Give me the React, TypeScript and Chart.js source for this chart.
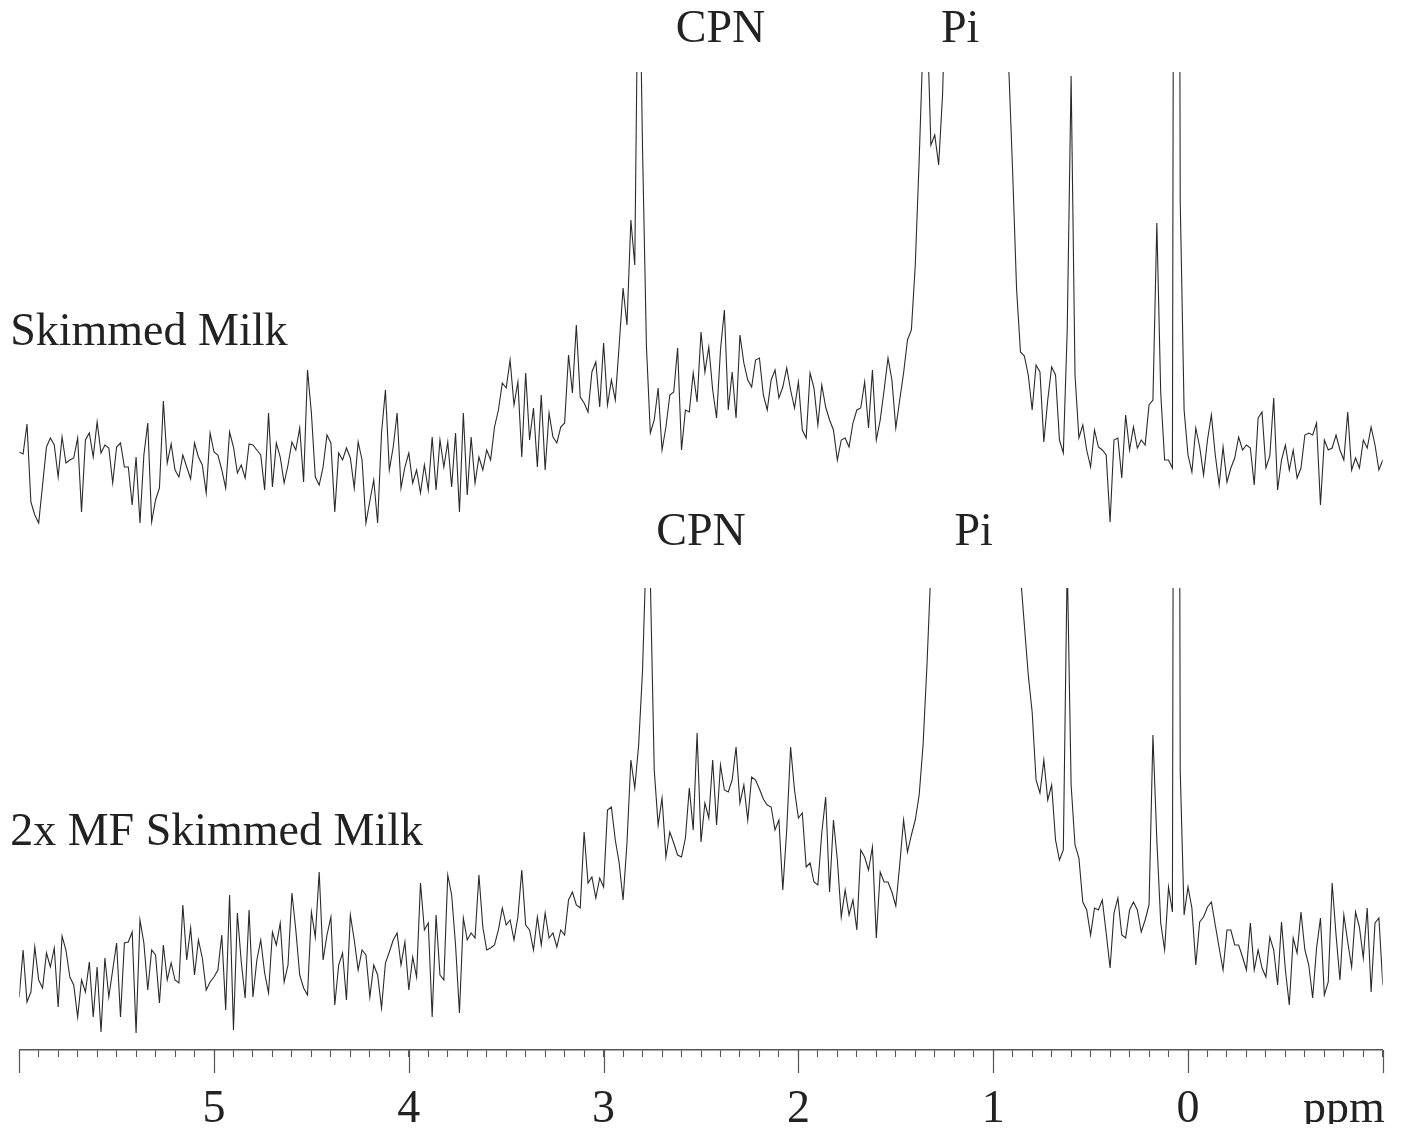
import { useEffect, useRef } from 'react';
import { Chart, registerables } from 'chart.js';

Chart.register(...registerables);

// ---- data: chemical shift grid (ppm) and intensities ----
const PPM_START = 6.0;
const PPM_STEP = 0.02;

// "Skimmed Milk" trace, 6.00 ppm down to -1.00 ppm (arbitrary intensity units)
const SKIMMED = [
  8, 6, 36, -42, -55, -63, -25, 13, 22, 15,
  -17, 23, -3, 0, 2, 22, -52, 20, 27, 3,
  38, 7, 15, 12, -23, 13, 17, -7, -7, -45,
  3, -63, 5, 37, -62, -40, -28, 59, -3, 16,
  -10, -17, 5, -7, -19, 17, 3, -5, -33, 27,
  8, 5, -10, -28, 28, 13, -13, -5, -18, 16,
  15, 10, 5, -30, 47, -27, 17, 3, -23, -5,
  18, 10, 32, -22, 90, 47, -17, -25, -7, 25,
  17, -52, 7, 0, 12, 2, -28, 18, 0, -63,
  -41, -20, -63, 27, 70, -10, 13, 47, -28, -7,
  7, -23, -10, -33, -5, -30, 23, -30, 20, -7,
  18, -27, 27, -52, 47, -35, 23, -23, 3, -10,
  10, 0, 33, 50, 77, 72, 100, 55, 78, 3,
  87, 20, 52, -7, 65, -10, 47, 23, 17, 33,
  37, 105, 67, 135, 63, 57, 48, 88, 98, 53,
  117, 55, 80, 60, 115, 172, 135, 240, 195, 560,
  310, 113, 27, 40, 72, 10, 33, 65, 68, 112,
  10, 50, 48, 87, 58, 128, 88, 113, 70, 42,
  110, 150, 50, 88, 42, 125, 97, 80, 73, 100,
  102, 65, 50, 80, 90, 62, 73, 92, 70, 52,
  78, 30, 22, 87, 72, 35, 75, 53, 40, 30,
  0, 20, 22, 13, 37, 50, 52, 78, 32, 90,
  20, 40, 70, 102, 80, 32, 60, 87, 120, 130,
  195, 300, 420, 450, 315, 325, 295, 365, 500, 700,
  1000, 1500, 2000, 2400, 2600, 2500, 2200, 1800, 1400, 1100,
  850, 650, 520, 440, 392, 287, 171, 108, 104, 85,
  50, 95, 88, 18, 60, 93, 85, 20, 7, 130,
  384, 85, 22, 35, 10, -7, 30, 13, 10, 5,
  -62, 20, 22, -18, 45, 10, 33, 12, 20, 15,
  55, 60, 237, 67, 0, 0, -8, 2000, 260, 50,
  5, -12, 32, 13, -15, 20, 45, 5, -25, 13,
  -22, -8, 2, 23, 10, 15, 12, -25, 42, 48,
  -8, 4, 62, -30, 0, 15, -10, 10, -18, -8,
  25, 27, 25, 37, -45, 20, 10, 12, 25, 10,
  0, 48, -10, 2, -8, 20, 12, 33, 15, -10,
  0,
];

// "2x MF Skimmed Milk" trace, 6.00 ppm down to -1.00 ppm
const MF2X = [
  -37, 10, -42, -32, 13, -20, -28, 7, -7, 12,
  -47, 24, 10, -17, -25, -57, -20, -32, -2, -57,
  -7, -72, 2, -37, -10, 17, -57, 17, 18, 28,
  -73, 40, 17, -30, 10, 5, -43, 15, -20, -3,
  -20, -23, 55, 0, 32, -15, 20, 2, -30, -22,
  -17, -10, 25, -50, 65, -70, 47, -2, -38, 50,
  -37, 0, 20, -13, -33, 28, 15, 37, -22, -5,
  67, 30, -15, -28, -35, 48, 23, 88, 0, 25,
  43, -45, -5, 7, -40, 45, 20, -10, 10, 5,
  -37, -5, -15, -48, -3, 8, 20, 27, -5, 18,
  -30, 3, -17, 77, 30, 37, -57, 45, -15, -20,
  85, 65, 15, -53, 42, 20, 27, 22, 85, 33,
  10, 12, 15, 30, 52, 35, 40, 20, 43, 90,
  35, 30, 10, 43, 15, 47, 22, 27, 13, 30,
  25, 60, 68, 55, 52, 128, 77, 83, 62, 82,
  73, 150, 153, 120, 97, 60, 117, 200, 172, 215,
  290, 420, 380, 190, 135, 162, 103, 128, 117, 105,
  103, 122, 172, 130, 227, 118, 157, 142, 200, 135,
  195, 170, 168, 180, 213, 157, 175, 140, 183, 180,
  171, 161, 155, 153, 130, 140, 70, 130, 213, 170,
  142, 147, 93, 97, 78, 75, 127, 163, 68, 140,
  100, 43, 70, 45, 60, 30, 110, 103, 90, 113,
  22, 88, 78, 78, 68, 54, 95, 140, 108, 125,
  140, 165, 215, 295, 390, 500, 650, 850, 1100, 1400,
  1800, 2200, 2600, 2900, 3000, 2900, 2600, 2200, 1800, 1400,
  1100, 850, 650, 520, 440, 400, 385, 385, 335, 285,
  248, 180, 167, 200, 160, 175, 120, 100, 110, 400,
  175, 115, 102, 58, 50, 25, 52, 50, 60, 27,
  -8, 47, 62, 25, 22, 50, 58, 50, 28, 40,
  55, 225, 120, 37, 10, 73, 48, 2000, 190, 45,
  73, 52, -5, 38, 43, 53, 58, 35, 12, -10,
  30, 30, 15, 15, 3, -10, 37, -10, 10, -8,
  -17, 23, 10, -25, 38, -10, -45, 22, 7, 48,
  10, -5, -38, 12, 42, -35, -22, 77, 25, -20,
  45, 18, -7, 48, 33, 2, 52, -32, 37, 42,
  -25,
];

const TRACE_NAMES = ['Skimmed Milk', '2x MF Skimmed Milk'];
const PEAK_LABELS = ['CPN', 'Pi'];
const TOP_PEAK_PPM = [2.4, 1.17];
const BOTTOM_PEAK_PPM = [2.5, 1.1];
const LABELED_TICKS = [5, 4, 3, 2, 1, 0];
const MAJOR_TICKS = [6, 5, 4, 3, 2, 1, 0, -1];
const AXIS_UNIT = 'ppm';

// ---- layout / style constants ----
const W = 1387;
const H = 1124;
const BOX_H = 1116;
const FONT_FAMILY = '"Liberation Serif", "Times New Roman", serif';
const FONT_SIZE = 46;
const TEXT_COLOR = '#222222';
const LINE_COLOR = '#2a2a2a';
const AXIS_COLOR = '#555555';
const NAME_LEVEL = 115;

const toPoints = (vals: number[]) =>
  vals.map((v, i) => ({ x: +(PPM_START - i * PPM_STEP).toFixed(2), y: v }));

const annotatePlugin = {
  id: 'nmrAnnotate',
  beforeDatasetDraw(chart: any, args: any) {
    const ys = chart.scales[args.meta.yAxisID];
    const ca = chart.chartArea;
    const ctx = chart.ctx;
    ctx.save();
    ctx.beginPath();
    ctx.rect(ca.left, ys.top, ca.right - ca.left, ys.bottom - ys.top);
    ctx.clip();
  },
  afterDatasetDraw(chart: any) {
    chart.ctx.restore();
  },
  afterDraw(chart: any) {
    const { ctx, chartArea, scales } = chart;
    const xs = scales.x;
    const yt = scales.yTop;
    const yb = scales.yBottom;
    ctx.save();
    ctx.strokeStyle = AXIS_COLOR;
    ctx.lineWidth = 1.2;
    for (const v of MAJOR_TICKS) {
      const px = Math.round(xs.getPixelForValue(v)) + 0.5;
      ctx.beginPath();
      ctx.moveTo(px, chartArea.bottom);
      ctx.lineTo(px, chartArea.bottom + 23);
      ctx.stroke();
    }
    ctx.fillStyle = TEXT_COLOR;
    ctx.font = `${FONT_SIZE}px ${FONT_FAMILY}`;
    ctx.textBaseline = 'alphabetic';
    ctx.textAlign = 'right';
    ctx.fillText(AXIS_UNIT, xs.getPixelForValue(-1) + 2, chartArea.bottom + 72);
    ctx.textAlign = 'center';
    PEAK_LABELS.forEach((t, i) => {
      ctx.fillText(t, xs.getPixelForValue(TOP_PEAK_PPM[i]), yt.top - 30);
      ctx.fillText(t, xs.getPixelForValue(BOTTOM_PEAK_PPM[i]), yb.top - 43);
    });
    ctx.textAlign = 'left';
    ctx.fillText(TRACE_NAMES[0], chartArea.left - 9, yt.getPixelForValue(NAME_LEVEL));
    ctx.fillText(TRACE_NAMES[1], chartArea.left - 9, yb.getPixelForValue(NAME_LEVEL));
    ctx.restore();
  },
};

export default function App() {
  const ref = useRef<HTMLCanvasElement | null>(null);

  useEffect(() => {
    if (!ref.current) return;
    const lineStyle = {
      borderColor: LINE_COLOR,
      borderWidth: 1.1,
      pointRadius: 0,
      tension: 0,
      fill: false,
    };
    const chart = new Chart(ref.current, {
      type: 'line',
      data: {
        datasets: [
          { label: TRACE_NAMES[0], data: toPoints(SKIMMED), yAxisID: 'yTop', ...lineStyle },
          { label: TRACE_NAMES[1], data: toPoints(MF2X), yAxisID: 'yBottom', ...lineStyle },
        ],
      },
      options: {
        responsive: false,
        animation: false,
        events: [],
        layout: { padding: { left: 11.2, right: 12.2, top: 64, bottom: 0 } },
        plugins: {
          legend: { display: false },
          tooltip: { enabled: false },
          title: { display: false },
        },
        scales: {
          x: {
            type: 'linear',
            min: -1,
            max: 6,
            reverse: true,
            afterFit: (scale: any) => {
              scale.height = 82;
              scale.paddingLeft = 0;
              scale.paddingRight = 0;
            },
            border: { display: true, color: AXIS_COLOR, width: 1.4 },
            grid: {
              display: true,
              drawOnChartArea: false,
              drawTicks: true,
              tickLength: 7,
              tickColor: AXIS_COLOR,
              tickWidth: 1.1,
            },
            ticks: {
              stepSize: 0.1,
              maxTicksLimit: 200,
              autoSkip: false,
              maxRotation: 0,
              minRotation: 0,
              padding: 25,
              color: TEXT_COLOR,
              font: { family: FONT_FAMILY, size: FONT_SIZE },
              callback: (value: any) => {
                const v = Math.round(Number(value) * 10) / 10;
                return LABELED_TICKS.includes(v) ? String(Math.abs(v)) : '';
              },
            },
          },
          yBottom: {
            type: 'linear',
            position: 'left',
            display: false,
            stack: 'panels',
            stackWeight: 462,
            min: -90,
            max: 372,
          },
          yTop: {
            type: 'linear',
            position: 'left',
            display: false,
            stack: 'panels',
            stackWeight: 516,
            min: -128,
            max: 388,
          },
        },
      } as any,
      plugins: [annotatePlugin],
    });
    return () => chart.destroy();
  }, []);

  return (
    <div style={{ width: W, height: BOX_H }}>
      <canvas ref={ref} width={W} height={H} style={{ display: 'block' }} />
    </div>
  );
}
